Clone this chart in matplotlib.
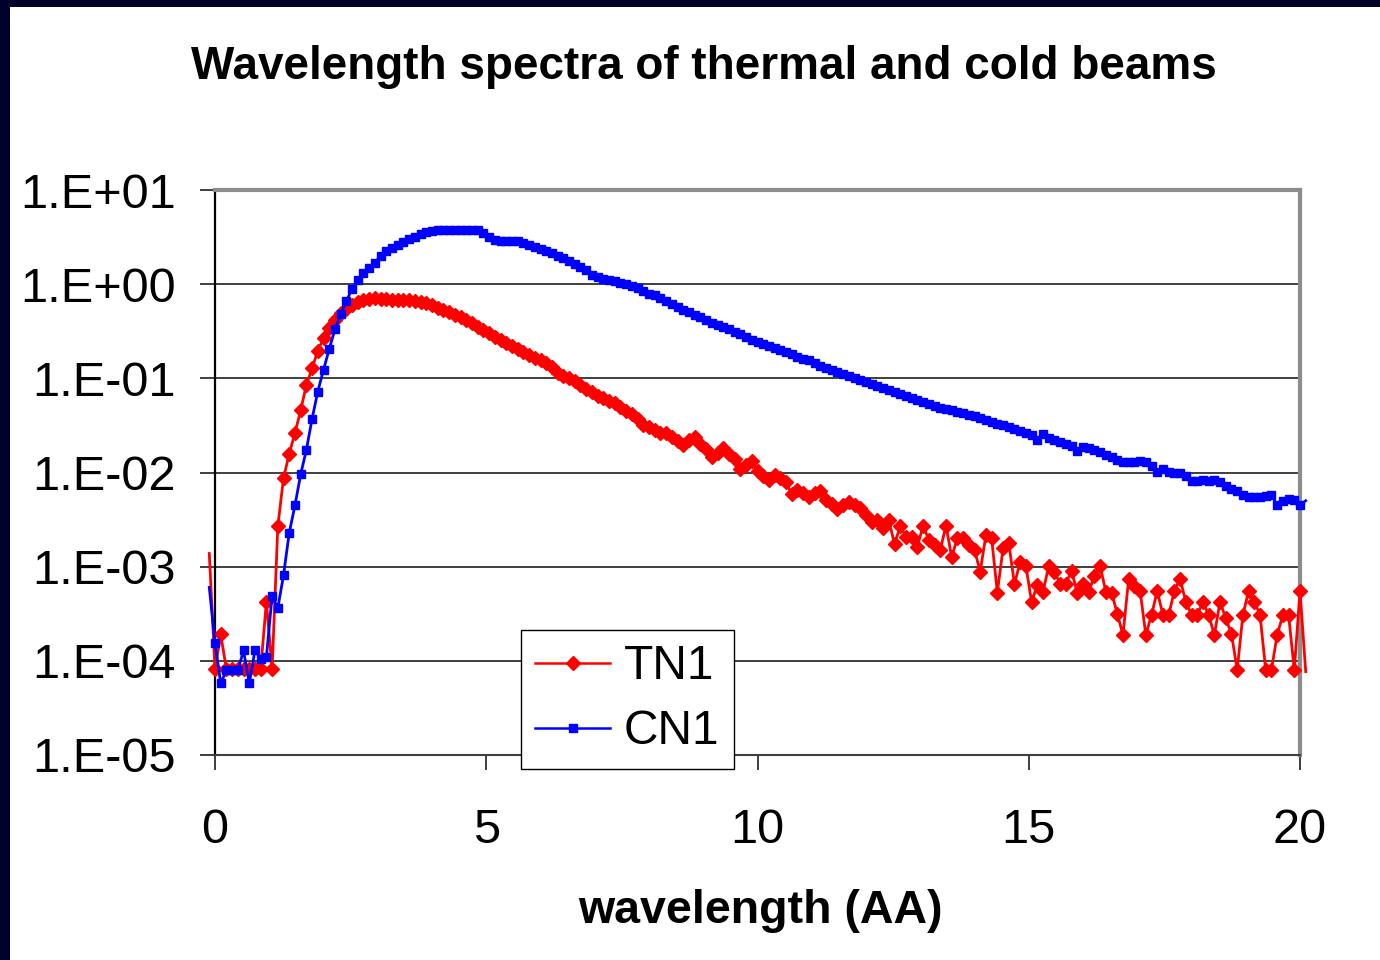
import numpy as np
import matplotlib
matplotlib.use("Agg")
from matplotlib import pyplot as plt
from matplotlib.patches import Rectangle
from matplotlib.lines import Line2D
from matplotlib.ticker import FuncFormatter, NullLocator

plt.rcParams['font.family'] = ['Liberation Sans', 'DejaVu Sans']

# wavelength bins (AA), 190 bins across 0..20 plus one each side
wavelength = np.arange(-1, 192) * 20.0 / 190.0

# log10 of the spectra
tn1_log = [
    -2.86, -4.09, -3.72, -4.09, -4.09, -4.09, -4.09, -4.09, -4.09, -4.09,
    -3.37, -4.09, -2.57, -2.06, -1.80, -1.58, -1.34, -1.07, -0.894, -0.706,
    -0.575, -0.469, -0.38, -0.303, -0.26, -0.221, -0.19, -0.168, -0.155, -0.15,
    -0.155, -0.16, -0.168, -0.165, -0.168, -0.17, -0.175, -0.19, -0.205, -0.225,
    -0.25, -0.274, -0.30, -0.325, -0.35, -0.38, -0.41, -0.45, -0.487, -0.52,
    -0.56, -0.593, -0.625, -0.655, -0.69, -0.72, -0.75, -0.78, -0.81, -0.84,
    -0.88, -0.94, -0.97, -1.0, -1.03, -1.07, -1.11, -1.15, -1.19, -1.21,
    -1.245, -1.26, -1.30, -1.343, -1.38, -1.43, -1.495, -1.52, -1.55, -1.577,
    -1.58, -1.62, -1.67, -1.708, -1.66, -1.627, -1.70, -1.75, -1.832, -1.79,
    -1.743, -1.80, -1.857, -1.966, -1.92, -1.875, -1.98, -2.04, -2.08, -2.026,
    -2.06, -2.105, -2.23, -2.186, -2.22, -2.257, -2.22, -2.193, -2.29, -2.33,
    -2.387, -2.35, -2.316, -2.345, -2.38, -2.45, -2.522, -2.50, -2.593, -2.504,
    -2.763, -2.565, -2.68, -2.68, -2.788, -2.565, -2.717, -2.77, -2.823, -2.565,
    -2.894, -2.699, -2.699, -2.77, -2.823, -3.053, -2.664, -2.699, -3.275, -2.805,
    -2.752, -3.184, -2.947, -2.993, -3.375, -3.195, -3.266, -2.993, -3.053, -3.184,
    -3.184, -3.042, -3.283, -3.184, -3.266, -3.10, -2.993, -3.266, -3.275, -3.501,
    -3.724, -3.13, -3.20, -3.258, -3.724, -3.513, -3.258, -3.513, -3.513, -3.258,
    -3.13, -3.372, -3.513, -3.513, -3.372, -3.513, -3.724, -3.372, -3.55, -3.714,
    -4.097, -3.513, -3.258, -3.372, -3.513, -4.097, -4.097, -3.724, -3.513, -3.513,
    -4.097, -3.258, -4.115,
]

cn1_log = [
    -3.22, -3.81, -4.24, -4.10, -4.10, -4.10, -3.89, -4.24, -3.89, -3.98,
    -3.96, -3.31, -3.44, -3.09, -2.64, -2.35, -2.02, -1.76, -1.43, -1.14,
    -0.91, -0.69, -0.48, -0.32, -0.18, -0.05, 0.04, 0.114, 0.176, 0.23,
    0.30, 0.352, 0.389, 0.415, 0.447, 0.477, 0.505, 0.531, 0.556, 0.568,
    0.575, 0.575, 0.576, 0.575, 0.575, 0.576, 0.575, 0.575, 0.544, 0.505,
    0.47, 0.462, 0.458, 0.458, 0.455, 0.435, 0.418, 0.398, 0.377, 0.35,
    0.33, 0.30, 0.279, 0.25, 0.215, 0.182, 0.152, 0.10, 0.08, 0.06,
    0.045, 0.03, 0.015, 0.0, -0.02, -0.04, -0.07, -0.10, -0.12, -0.15,
    -0.18, -0.21, -0.24, -0.27, -0.30, -0.33, -0.35, -0.38, -0.41, -0.43,
    -0.46, -0.48, -0.51, -0.53, -0.56, -0.59, -0.61, -0.64, -0.66, -0.68,
    -0.70, -0.72, -0.745, -0.77, -0.79, -0.81, -0.84, -0.87, -0.89, -0.91,
    -0.93, -0.95, -0.98, -1.00, -1.02, -1.04, -1.06, -1.08, -1.10, -1.12,
    -1.145, -1.165, -1.19, -1.21, -1.23, -1.25, -1.275, -1.29, -1.31, -1.325,
    -1.34, -1.355, -1.37, -1.385, -1.40, -1.42, -1.44, -1.465, -1.48, -1.50,
    -1.52, -1.54, -1.56, -1.58, -1.60, -1.655, -1.59, -1.63, -1.65, -1.68,
    -1.70, -1.72, -1.77, -1.726, -1.74, -1.76, -1.78, -1.81, -1.84, -1.87,
    -1.89, -1.89, -1.89, -1.88, -1.885, -1.93, -1.99, -1.96, -1.99, -2.01,
    -2.01, -2.04, -2.09, -2.09, -2.08, -2.085, -2.08, -2.10, -2.14, -2.17,
    -2.20, -2.24, -2.257, -2.26, -2.255, -2.25, -2.24, -2.345, -2.30, -2.285,
    -2.29, -2.345, -2.30,
]

tn1 = 10.0 ** np.array(tn1_log)
cn1 = 10.0 ** np.array(cn1_log)

series = [("TN1", tn1, "#ff0000", "D", 7.2), ("CN1", cn1, "#0000ff", "s", 6.2)]
xticks = [0, 5, 10, 15, 20]
yticks = [1e-5, 1e-4, 1e-3, 1e-2, 1e-1, 1e0, 1e1]

fig = plt.figure(figsize=(13.8, 9.6), dpi=100)
ax = fig.add_axes([215 / 1380, 1 - 755 / 960, 1085 / 1380, 565 / 960])

handles = []
for i, (name, vals, col, mk, ms) in enumerate(series):
    ax.plot(wavelength, vals, color=col, lw=2.0, clip_on=False, zorder=3 + i)
    ax.plot(wavelength[1:-1], vals[1:-1], ls="none", marker=mk, ms=ms,
            color=col, mec=col, clip_on=False, zorder=3 + i)
    handles.append(Line2D([], [], color=col, lw=1.8, marker=mk, ms=ms, label=name))

ax.set_yscale("log")
ax.set_xlim(0, 20)
ax.set_ylim(1e-5, 1e1)
ax.set_xticks(xticks)
ax.set_yticks(yticks)
ax.yaxis.set_minor_locator(NullLocator())
ax.yaxis.set_major_formatter(FuncFormatter(lambda v, p: "1.E%+03d" % round(np.log10(v))))

ax.yaxis.grid(True, color="#303030", lw=1.3)
ax.tick_params(axis="both", direction="out", length=11, width=1.3, color="#303030",
               labelsize=35)
ax.tick_params(axis="y", pad=17)
ax.tick_params(axis="x", pad=27)

ax.spines["left"].set_color("black")
ax.spines["left"].set_linewidth(1.6)
ax.spines["bottom"].set_color("#404040")
ax.spines["bottom"].set_linewidth(1.5)
for s in ["top", "right"]:
    ax.spines[s].set_color("#8c8c8c")
    ax.spines[s].set_linewidth(3)

leg = ax.legend(handles=handles, loc="upper left",
                bbox_to_anchor=(521 / 1380, 1 - 630 / 960), bbox_transform=fig.transFigure,
                fontsize=34.5, fancybox=False, edgecolor="black", framealpha=1,
                handlelength=1.55, handletextpad=0.3, borderpad=0.3,
                labelspacing=0.42, borderaxespad=0)
leg.get_frame().set_linewidth(1.0)
leg.set_zorder(10)

fig.text(704 / 1380, 0.930, "Wavelength spectra of thermal and cold beams",
         ha="center", va="center", fontsize=33, fontweight="bold")
fig.text(760 / 1380, 0.051, "wavelength (AA)", ha="center", va="center",
         fontsize=33.5, fontweight="bold")

# dark slide frame on the left and top
fig.add_artist(Rectangle((0, 0), 10 / 1380, 1, transform=fig.transFigure,
                         facecolor="#00002a", edgecolor="none", zorder=20))
fig.add_artist(Rectangle((0, 1 - 7 / 960), 1, 7 / 960, transform=fig.transFigure,
                         facecolor="#00002a", edgecolor="none", zorder=20))

fig.savefig("out.png", dpi=100)
